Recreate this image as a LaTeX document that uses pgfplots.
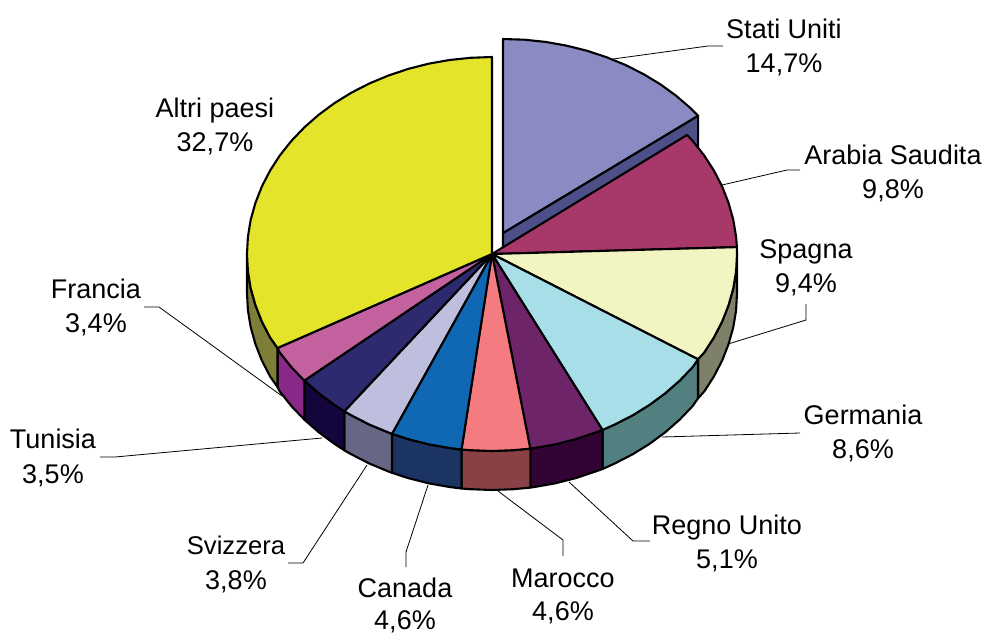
\documentclass[border=0pt]{standalone}
\usepackage{fontspec}
\setmainfont{Liberation Sans}
\usepackage{pgfplots}
\pgfplotsset{compat=1.18}
\definecolor{suT}{HTML}{8B8BC3}\definecolor{suS}{HTML}{4D5088}
\definecolor{arT}{HTML}{A8386A}
\definecolor{spT}{HTML}{F2F4C2}\definecolor{spS}{HTML}{7F8068}
\definecolor{geT}{HTML}{A8DEE8}\definecolor{geS}{HTML}{528080}
\definecolor{ruT}{HTML}{6E2468}\definecolor{ruS}{HTML}{320434}
\definecolor{maT}{HTML}{F47C80}\definecolor{maS}{HTML}{8A4044}
\definecolor{caT}{HTML}{1068B4}\definecolor{caS}{HTML}{1C3464}
\definecolor{svT}{HTML}{BEBEDE}\definecolor{svS}{HTML}{666685}
\definecolor{tuT}{HTML}{2E2A70}\definecolor{tuS}{HTML}{14063C}
\definecolor{frT}{HTML}{C462A0}\definecolor{frS}{HTML}{8A2888}
\definecolor{alT}{HTML}{E4E42A}\definecolor{alS}{HTML}{7E7E38}
\tikzset{
  slice/.style={draw=black, line width=2.1pt, line join=round, fill=#1},
  leader/.style={draw=black, line width=0.8pt, line join=miter},
  lab/.style={font=\fontsize{27}{34}\selectfont, anchor=base, inner sep=0pt, text=black}
}
\begin{document}
\begin{tikzpicture}
\useasboundingbox (0,0) rectangle (983pt,635pt);
\begin{axis}[
    x=1pt, y=1pt,
    xmin=0, xmax=983, ymin=0, ymax=635,
    y dir=reverse,
    hide axis,
    clip=false
  ]
  % exploded slice: cut face, then top
  \addplot[slice=suS] coordinates {(698.1,115.7) (698.1,154.7) (503,272) (503,233) (698.1,115.7)};
  \addplot[slice=suT] coordinates {(503,233) (503,39) (524.4,39.7) (545.5,41.9) (566.4,45.6) (586.8,50.7) (606.5,57.2) (625.5,65) (643.5,74.1) (660.5,84.4) (676.2,95.8) (690.7,108.3) (698.1,115.7) (503,233)};
  % outer walls
  \addplot[slice=spS] coordinates {(737,254) (736.1,271.2) (733.3,288.2) (728.6,305) (722.2,321.4) (714,337.3) (704.2,352.5) (698,359.3) (698,398.3) (704.2,391.5) (714,376.3) (722.2,360.4) (728.6,344) (733.3,327.2) (736.1,310.2) (737,293) (737,254)};
  \addplot[slice=geS] coordinates {(698,359.3) (692.7,367) (679.7,380.6) (665.2,393.3) (649.5,404.9) (632.5,415.4) (614.5,424.6) (602.5,430) (602.5,469) (614.5,463.6) (632.5,454.4) (649.5,443.9) (665.2,432.3) (679.7,419.6) (692.7,406) (698,398.3) (698,359.3)};
  \addplot[slice=ruS] coordinates {(602.5,430) (595.5,432.5) (575.8,439.1) (555.4,444.3) (534.5,448) (530.3,448.6) (530.3,487.6) (534.5,487) (555.4,483.3) (575.8,478.1) (595.5,471.5) (602.5,469) (602.5,430)};
  \addplot[slice=maS] coordinates {(530.3,448.6) (513.4,450.2) (492,451) (470.6,450.2) (461.5,449.5) (461.5,488.5) (470.6,489.2) (492,490) (513.4,489.2) (530.3,487.6) (530.3,448.6)};
  \addplot[slice=caS] coordinates {(461.5,449.5) (449.5,448) (428.6,444.3) (408.2,439.1) (392,433.8) (392,472.8) (408.2,478.1) (428.6,483.3) (449.5,487) (461.5,488.5) (461.5,449.5)};
  \addplot[slice=svS] coordinates {(392,433.8) (388.5,432.5) (369.5,424.6) (351.5,415.4) (344.3,411.3) (344.3,450.3) (351.5,454.4) (369.5,463.6) (388.5,471.5) (392,472.8) (392,433.8)};
  \addplot[slice=tuS] coordinates {(344.3,411.3) (334.5,404.9) (318.8,393.3) (304.3,380.6) (304.3,419.6) (318.8,432.3) (334.5,443.9) (344.3,450.3) (344.3,411.3)};
  \addplot[slice=frS] coordinates {(304.3,380.6) (291.3,367) (279.8,352.5) (277.5,348) (277.5,387) (279.8,391.5) (291.3,406) (304.3,419.6) (304.3,380.6)};
  \addplot[slice=alS] coordinates {(277.5,348) (270,337.3) (261.8,321.4) (255.4,305) (250.7,288.2) (247.9,271.2) (247,254) (247,293) (247.9,310.2) (250.7,327.2) (255.4,344) (261.8,360.4) (270,376.3) (277.5,387) (277.5,348)};
  % top faces
  \addplot[slice=arT] coordinates {(492,254) (687.1,134.9) (692.7,141) (704.2,155.5) (714,170.7) (722.2,186.6) (728.6,203) (733.3,219.8) (736.1,236.8) (736.9,247.1) (492,254)};
  \addplot[slice=spT] coordinates {(492,254) (736.9,247.1) (737,254) (736.1,271.2) (733.3,288.2) (728.6,305) (722.2,321.4) (714,337.3) (704.2,352.5) (698,359.3) (492,254)};
  \addplot[slice=geT] coordinates {(492,254) (698,359.3) (692.7,367) (679.7,380.6) (665.2,393.3) (649.5,404.9) (632.5,415.4) (614.5,424.6) (602.5,430) (492,254)};
  \addplot[slice=ruT] coordinates {(492,254) (602.5,430) (595.5,432.5) (575.8,439.1) (555.4,444.3) (534.5,448) (530.3,448.6) (492,254)};
  \addplot[slice=maT] coordinates {(492,254) (530.3,448.6) (513.4,450.2) (492,451) (470.6,450.2) (461.5,449.5) (492,254)};
  \addplot[slice=caT] coordinates {(492,254) (461.5,449.5) (449.5,448) (428.6,444.3) (408.2,439.1) (392,433.8) (492,254)};
  \addplot[slice=svT] coordinates {(492,254) (392,433.8) (388.5,432.5) (369.5,424.6) (351.5,415.4) (344.3,411.3) (492,254)};
  \addplot[slice=tuT] coordinates {(492,254) (344.3,411.3) (334.5,404.9) (318.8,393.3) (304.3,380.6) (492,254)};
  \addplot[slice=frT] coordinates {(492,254) (304.3,380.6) (291.3,367) (279.8,352.5) (277.5,348) (492,254)};
  \addplot[slice=alT] coordinates {(492,254) (277.5,348) (270,337.3) (261.8,321.4) (255.4,305) (250.7,288.2) (247.9,271.2) (247,254) (247.9,236.8) (250.7,219.8) (255.4,203) (261.8,186.6) (270,170.7) (279.8,155.5) (291.3,141) (304.3,127.4) (318.8,114.7) (334.5,103.1) (351.5,92.6) (369.5,83.4) (388.5,75.5) (408.2,68.9) (428.6,63.7) (449.5,60) (470.6,57.8) (492,57) (492,254)};
  % leader lines
  \addplot[leader] coordinates {(613,59) (708,46) (723,46)};
  \addplot[leader] coordinates {(722,185) (787,170) (800,170)};
  \addplot[leader] coordinates {(728,344) (806,320) (806,304)};
  \addplot[leader] coordinates {(662,437) (800,433)};
  \addplot[leader] coordinates {(569,482) (633,541) (650,541)};
  \addplot[leader] coordinates {(498,491) (563,540) (563,556)};
  \addplot[leader] coordinates {(428,485) (406,552) (406,567)};
  \addplot[leader] coordinates {(367,465) (303,563) (288,563)};
  \addplot[leader] coordinates {(322,438) (115,457) (100,457)};
  \addplot[leader] coordinates {(282,396) (159,307) (144,307)};
  % labels
  \node[/tikz/lab] at (axis cs:784,38) {Stati Uniti};
  \node[/tikz/lab] at (axis cs:784,72) {14,7\%};
  \node[/tikz/lab] at (axis cs:893,164) {Arabia Saudita};
  \node[/tikz/lab] at (axis cs:893,198) {9,8\%};
  \node[/tikz/lab] at (axis cs:806,258) {Spagna};
  \node[/tikz/lab] at (axis cs:806,292) {9,4\%};
  \node[/tikz/lab] at (axis cs:863,424) {Germania};
  \node[/tikz/lab] at (axis cs:863,458) {8,6\%};
  \node[/tikz/lab] at (axis cs:727,534) {Regno Unito};
  \node[/tikz/lab] at (axis cs:727,568) {5,1\%};
  \node[/tikz/lab] at (axis cs:563,587) {Marocco};
  \node[/tikz/lab] at (axis cs:563,620) {4,6\%};
  \node[/tikz/lab] at (axis cs:405,597) {Canada};
  \node[/tikz/lab] at (axis cs:405,629) {4,6\%};
  \node[/tikz/lab, font=\fontsize{25.6}{34}\selectfont] at (axis cs:236,554) {Svizzera};
  \node[/tikz/lab] at (axis cs:236,589) {3,8\%};
  \node[/tikz/lab] at (axis cs:53,448) {Tunisia};
  \node[/tikz/lab] at (axis cs:53,483) {3,5\%};
  \node[/tikz/lab] at (axis cs:96,298) {Francia};
  \node[/tikz/lab] at (axis cs:96,332) {3,4\%};
  \node[/tikz/lab] at (axis cs:215,117) {Altri paesi};
  \node[/tikz/lab] at (axis cs:215,151) {32,7\%};
\end{axis}
\end{tikzpicture}
\end{document}
